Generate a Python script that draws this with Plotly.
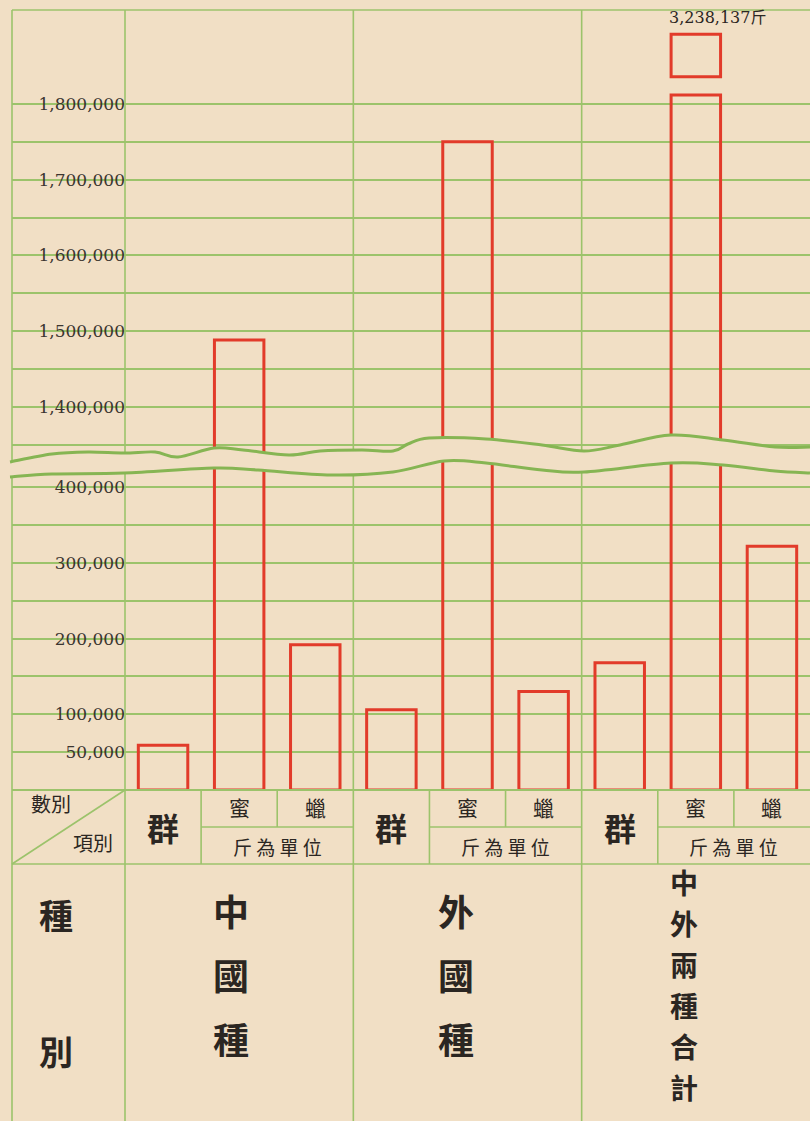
import plotly.graph_objects as go

# 種別 / 項別
groups = ['中國種', '外國種', '中外兩種合計']
items = ['群', '蜜', '蠟']

# 數量 (群 = count, 蜜/蠟 in 斤)
qun = [59_000, 106_000, 168_000]
mi = [1_488_000, 1_750_137, 3_238_137]
la = [192_000, 130_000, 322_000]

series = {'群': qun, '蜜': mi, '蠟': la}

W, H = 810, 1121
PAPER = '#f1dfc5'
GREEN = '#9cc36b'
WAVE = '#86b553'
RED = '#e23b2a'
INK = '#2b2622'


def px_x(x):
    return x / W


def px_y(y):
    return 1 - y / H


# value per pixel on the vertical scale (50,000 per grid step ~37.84px)
SCALE = 50_000 / 37.84
BREAK_TOP = 1_812_000      # where the very tall bar is cut
FRAG_BASE = 3_180_000      # base of the small box on top

xs, vals = [], []
for g in range(len(groups)):
    for k, it in enumerate(items):
        xs.append(g * len(items) + k)
        vals.append(series[it][g])

bar_style = dict(marker=dict(color='rgba(0,0,0,0)', line=dict(color=RED, width=3)),
                 width=0.65, showlegend=False, hoverinfo='skip')

fig = go.Figure()
fig.add_trace(go.Bar(x=xs, y=vals, yaxis='y', **bar_style))
fig.add_trace(go.Bar(x=xs, y=[min(v, BREAK_TOP) for v in vals], yaxis='y2', **bar_style))
top_x = [x for x, v in zip(xs, vals) if v > BREAK_TOP]
top_v = [v for v in vals if v > BREAK_TOP]
fig.add_trace(go.Bar(x=top_x, y=[v - FRAG_BASE for v in top_v], base=[FRAG_BASE] * len(top_v),
                     yaxis='y3', **bar_style))

# axes
unit = (W - 125) / len(xs)
x0 = -0.5 - (125 - 12) / unit
tick_font = dict(family='DejaVu Serif', size=17, color='#3b3530')

low_vals = list(range(0, 400_001, 50_000))
up_vals = list(range(1_350_000, 1_800_001, 50_000))

fig.update_layout(
    width=W, height=H, margin=dict(l=0, r=0, t=0, b=0),
    paper_bgcolor=PAPER, plot_bgcolor=PAPER, barmode='overlay',
    xaxis=dict(domain=[px_x(12), 1], range=[x0, len(xs) - 0.5], anchor='y',
               showticklabels=False, showgrid=False, zeroline=False, showline=False),
    yaxis=dict(domain=[px_y(790), px_y(455)], range=[0, (790 - 455) * SCALE],
               anchor='free', position=px_x(125), tickvals=low_vals,
               ticktext=[f'{v:,}' if v and (v % 100_000 == 0 or v == 50_000) else '' for v in low_vals],
               showgrid=True, gridcolor=GREEN, gridwidth=1.5, zeroline=False,
               showline=False, ticks='', tickfont=tick_font),
    yaxis2=dict(domain=[px_y(465), px_y(88)],
                range=[1_800_000 - (465 - 104) * SCALE, 1_800_000 + (104 - 88) * SCALE],
                anchor='free', position=px_x(125), tickvals=up_vals,
                ticktext=[f'{v:,}' if v % 100_000 == 0 else '' for v in up_vals],
                showgrid=True, gridcolor=GREEN, gridwidth=1.5, zeroline=False,
                showline=False, ticks='', tickfont=tick_font),
    yaxis3=dict(domain=[px_y(82), px_y(30)], range=[3_173_000, 3_244_000],
                anchor='free', position=px_x(125), showticklabels=False,
                showgrid=False, zeroline=False, showline=False),
)


def line(x0_, y0_, x1_, y1_, xref='paper', color=GREEN, width=1.6):
    return dict(type='line', xref=xref, yref='paper', x0=x0_, y0=y0_, x1=x1_, y1=y1_,
                line=dict(color=color, width=width), layer='above')


def bezier(pts):
    P = [(px_x(x), px_y(y)) for x, y in pts]
    d = ''
    for i in range(len(P) - 1):
        p0 = P[i - 1] if i > 0 else P[i]
        p1, p2 = P[i], P[i + 1]
        p3 = P[i + 2] if i + 2 < len(P) else P[i + 1]
        c1 = (p1[0] + (p2[0] - p0[0]) / 6, p1[1] + (p2[1] - p0[1]) / 6)
        c2 = (p2[0] - (p3[0] - p1[0]) / 6, p2[1] - (p3[1] - p1[1]) / 6)
        d += f' C {c1[0]:.5f},{c1[1]:.5f} {c2[0]:.5f},{c2[1]:.5f} {p2[0]:.5f},{p2[1]:.5f}'
    return P, d


shapes = []
# frame and column rules
shapes.append(line(px_x(12), px_y(10), 1, px_y(10)))
shapes.append(line(px_x(12), 0, px_x(12), px_y(10)))
for g in range(len(groups)):
    shapes.append(line(g * 3 - 0.5, 0, g * 3 - 0.5, px_y(10), xref='x'))
# header table
shapes.append(line(px_x(12), px_y(790), 1, px_y(790), width=2))
shapes.append(line(px_x(12), px_y(864), 1, px_y(864)))
shapes.append(line(px_x(125), px_y(790), px_x(12), px_y(864)))
for g in range(len(groups)):
    b = g * 3
    shapes.append(line(b + 0.5, px_y(827), b + 2.5, px_y(827), xref='x'))
    shapes.append(line(b + 0.5, px_y(790), b + 0.5, px_y(864), xref='x'))
    shapes.append(line(b + 1.5, px_y(790), b + 1.5, px_y(827), xref='x'))

# axis break band
upper = [(10, 462), (52, 454), (88, 452), (124, 453), (155, 452), (178, 457), (214, 448),
         (243, 450), (289, 455), (320, 451), (362, 450), (393, 451), (408, 444), (429, 438),
         (486, 439), (542, 445), (584, 451), (620, 445), (671, 435), (723, 440), (775, 447),
         (810, 447)]
lower = [(10, 477), (52, 474), (124, 473), (214, 468), (258, 470), (331, 475), (393, 472),
         (444, 461), (486, 463), (542, 470), (584, 472), (671, 463), (723, 465), (775, 471),
         (810, 473)]
Pu, du = bezier(upper)
Pl, dl = bezier(lower[::-1])
band = f'M {Pu[0][0]:.5f},{Pu[0][1]:.5f}{du} L {Pl[0][0]:.5f},{Pl[0][1]:.5f}{dl} Z'
shapes.append(dict(type='path', xref='paper', yref='paper', path=band,
                   fillcolor=PAPER, line=dict(width=0), layer='above'))
for pts in (upper, lower):
    P, d = bezier(pts)
    shapes.append(dict(type='path', xref='paper', yref='paper',
                       path=f'M {P[0][0]:.5f},{P[0][1]:.5f}{d}',
                       line=dict(color=WAVE, width=3), layer='above'))
fig.update_layout(shapes=shapes)

cjk = 'Noto Sans CJK TC'
ann = []


def txt(x, y, s, size, xref='paper', yref='paper', weight='normal', **kw):
    ann.append(dict(x=x, y=y, xref=xref, yref=yref, text=s, showarrow=False,
                    xanchor='center', yanchor='middle',
                    font=dict(family=cjk, size=size, color=INK, weight=weight), **kw))


for g in range(len(groups)):
    b = g * 3
    txt(b, px_y(827), items[0], 32, xref='x', weight='bold')
    txt(b + 1, px_y(807), items[1], 21, xref='x')
    txt(b + 2, px_y(807), items[2], 21, xref='x')
    txt(b + 1.5, px_y(846), '斤 為 單 位', 19, xref='x')

txt(px_x(51), px_y(803), '數別', 20)
txt(px_x(93), px_y(842), '項別', 20)
txt(px_x(56), px_y(915), '種', 34, weight='bold')
txt(px_x(56), px_y(1050), '別', 34, weight='bold')

# group names, written vertically
for g, name in enumerate(groups):
    if len(name) <= 3:
        start, step, size, shift = 910, 64, 36, -8 - 4 * g
    else:
        start, step, size, shift = 882, 41, 28, -12
    for i, ch in enumerate(name):
        txt(g * 3 + 1, px_y(start + i * step), ch, size, xref='x', xshift=shift,
            weight='bold')

# value of the tallest bar
for x, v in zip(top_x, top_v):
    ann.append(dict(x=x, y=v, xref='x', yref='y3', text=f'{v:,}斤', showarrow=False,
                    xanchor='center', yanchor='bottom', xshift=22, yshift=5,
                    font=dict(family='DejaVu Serif, Noto Sans CJK TC', size=16, color=INK)))

fig.update_layout(annotations=ann)

fig.write_html('out.html', config={'displayModeBar': False},
               post_script="document.body.style.margin='0';")
